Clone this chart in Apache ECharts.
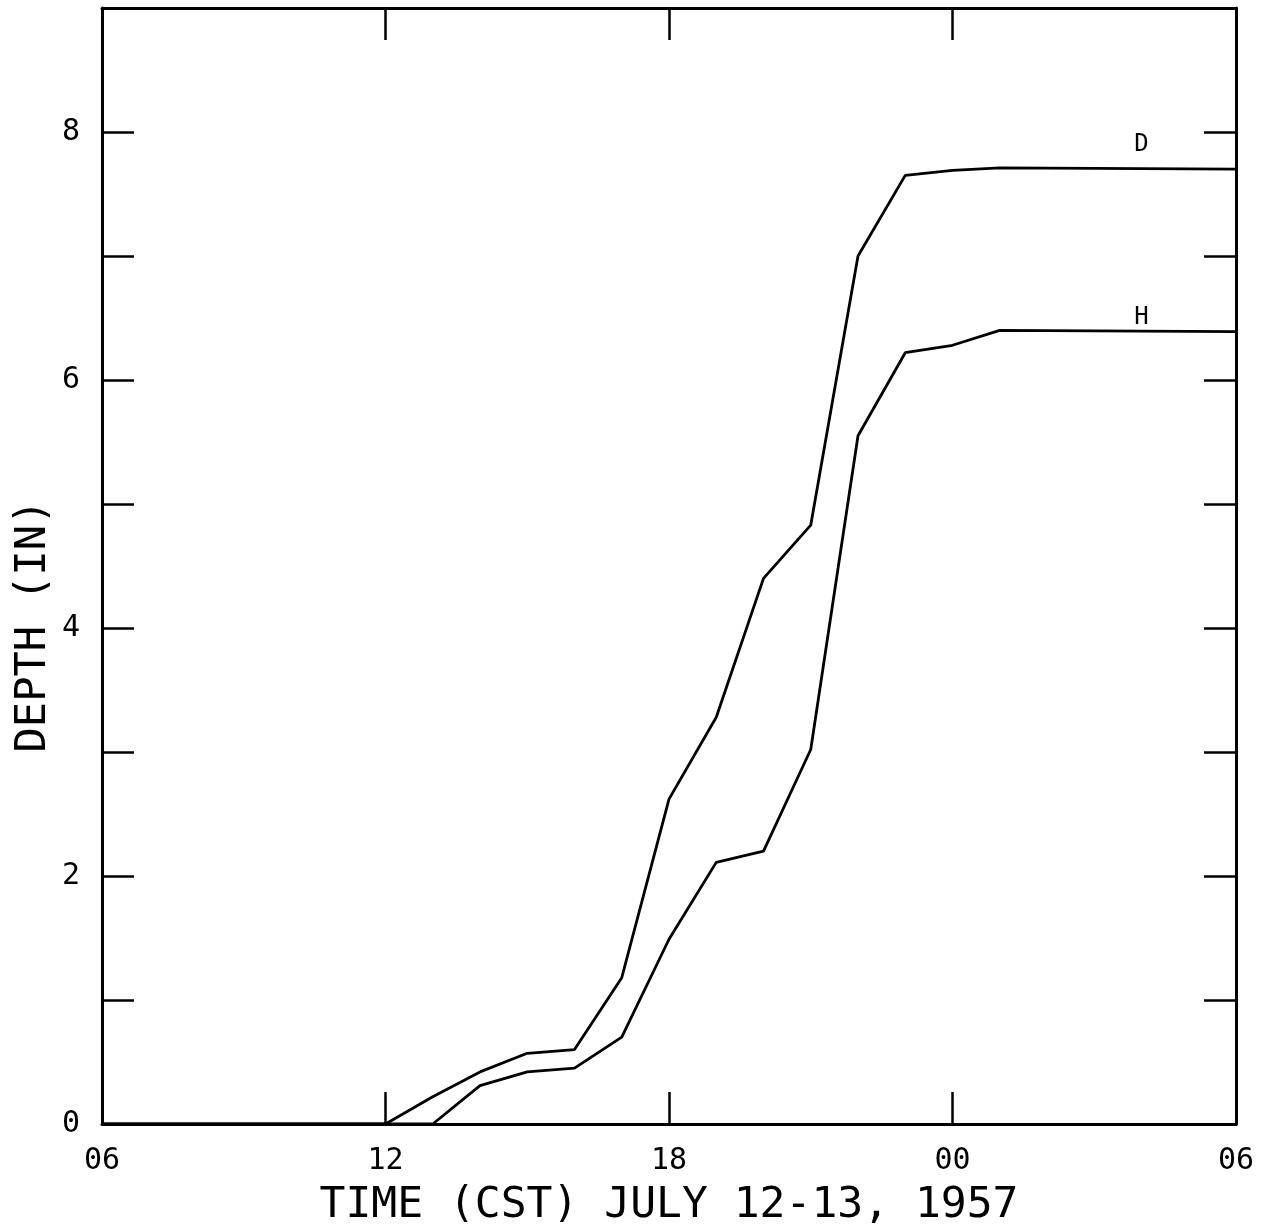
<!DOCTYPE html>
<html>
<head>
<meta charset="utf-8">
<script src="https://cdn.jsdelivr.net/npm/echarts@6/dist/echarts.min.js"></script>
<style>
  html, body { margin: 0; padding: 0; background: #fff; }
  #chart { width: 1264px; height: 1226px; }
</style>
</head>
<body>
<div id="chart"></div>
<script>
// hours counted from 06 on July 12 (24 = midnight, 30 = 06 on July 13)
const hoursD = [6, 12, 13, 14, 15, 16, 17, 18, 19, 20, 21, 22, 23, 24, 25, 30];
const depthD = [0, 0, 0.22, 0.42, 0.57, 0.60, 1.18, 2.62, 3.28, 4.40, 4.83, 7.00, 7.65, 7.69, 7.71, 7.70];
const hoursH = [6, 13, 14, 15, 16, 17, 18, 19, 20, 21, 22, 23, 24, 25, 30];
const depthH = [0, 0, 0.31, 0.42, 0.45, 0.70, 1.49, 2.11, 2.20, 3.02, 5.55, 6.22, 6.28, 6.40, 6.39];
const labelHour = 28;
const fontFamily = 'DejaVu Sans Mono';

const chart = echarts.init(document.getElementById('chart'), null, { renderer: 'canvas' });

function pairs(xs, ys) {
  return xs.map((x, i) => [x, ys[i]]);
}

function hourLabel(v) {
  const h = ((v % 24) + 24) % 24;
  return (h < 10 ? '0' : '') + h;
}

const tickStyle = { show: true, inside: true, length: 32, lineStyle: { color: '#000', width: 2.5 } };
const lineStyle = { show: true, onZero: false, lineStyle: { color: '#000', width: 3 } };

const option = {
  animation: false,
  backgroundColor: '#fff',
  grid: { left: 102, right: 28, top: 8, bottom: 102, outerBoundsMode: 'none', containLabel: false },
  xAxis: [
    {
      type: 'value',
      min: 6,
      max: 30,
      interval: 6,
      position: 'bottom',
      axisLine: lineStyle,
      axisTick: tickStyle,
      splitLine: { show: false },
      axisLabel: {
        formatter: hourLabel,
        color: '#000',
        fontFamily: fontFamily,
        fontSize: 30,
        margin: 22
      },
      name: 'TIME (CST) JULY 12-13, 1957',
      nameLocation: 'middle',
      nameGap: 60,
      nameTextStyle: { color: '#000', fontFamily: fontFamily, fontSize: 43 }
    },
    {
      type: 'value',
      min: 6,
      max: 30,
      interval: 6,
      position: 'top',
      axisLine: lineStyle,
      axisTick: tickStyle,
      splitLine: { show: false },
      axisLabel: { show: false }
    }
  ],
  yAxis: [
    {
      type: 'value',
      min: 0,
      max: 9,
      interval: 1,
      position: 'left',
      axisLine: lineStyle,
      axisTick: tickStyle,
      splitLine: { show: false },
      axisLabel: {
        formatter: v => (v % 2 === 0 ? String(v) : ''),
        color: '#000',
        fontFamily: fontFamily,
        fontSize: 30,
        margin: 22
      }
    },
    {
      type: 'value',
      min: 0,
      max: 9,
      interval: 1,
      position: 'right',
      axisLine: lineStyle,
      axisTick: tickStyle,
      splitLine: { show: false },
      axisLabel: { show: false }
    }
  ],
  graphic: [
    {
      type: 'text',
      x: 34,
      y: 626,
      rotation: Math.PI / 2,
      style: {
        text: 'DEPTH (IN)',
        fill: '#000',
        font: '42px "DejaVu Sans Mono"',
        textAlign: 'center',
        textVerticalAlign: 'middle'
      }
    }
  ],
  series: [
    {
      name: 'D',
      type: 'line',
      data: pairs(hoursD, depthD),
      symbol: 'none',
      lineStyle: { color: '#000', width: 2.8 },
      markPoint: {
        symbol: 'circle',
        symbolSize: 0,
        data: [{ coord: [labelHour, depthD[depthD.length - 1]] }],
        label: {
          show: true,
          formatter: 'D',
          position: 'top',
          distance: 12,
          color: '#000',
          fontFamily: fontFamily,
          fontSize: 24
        }
      }
    },
    {
      name: 'H',
      type: 'line',
      data: pairs(hoursH, depthH),
      symbol: 'none',
      lineStyle: { color: '#000', width: 2.8 },
      markPoint: {
        symbol: 'circle',
        symbolSize: 0,
        data: [{ coord: [labelHour, depthH[depthH.length - 1]] }],
        label: {
          show: true,
          formatter: 'H',
          position: 'top',
          distance: 2,
          color: '#000',
          fontFamily: fontFamily,
          fontSize: 24
        }
      }
    }
  ]
};

chart.setOption(option);
</script>
</body>
</html>
